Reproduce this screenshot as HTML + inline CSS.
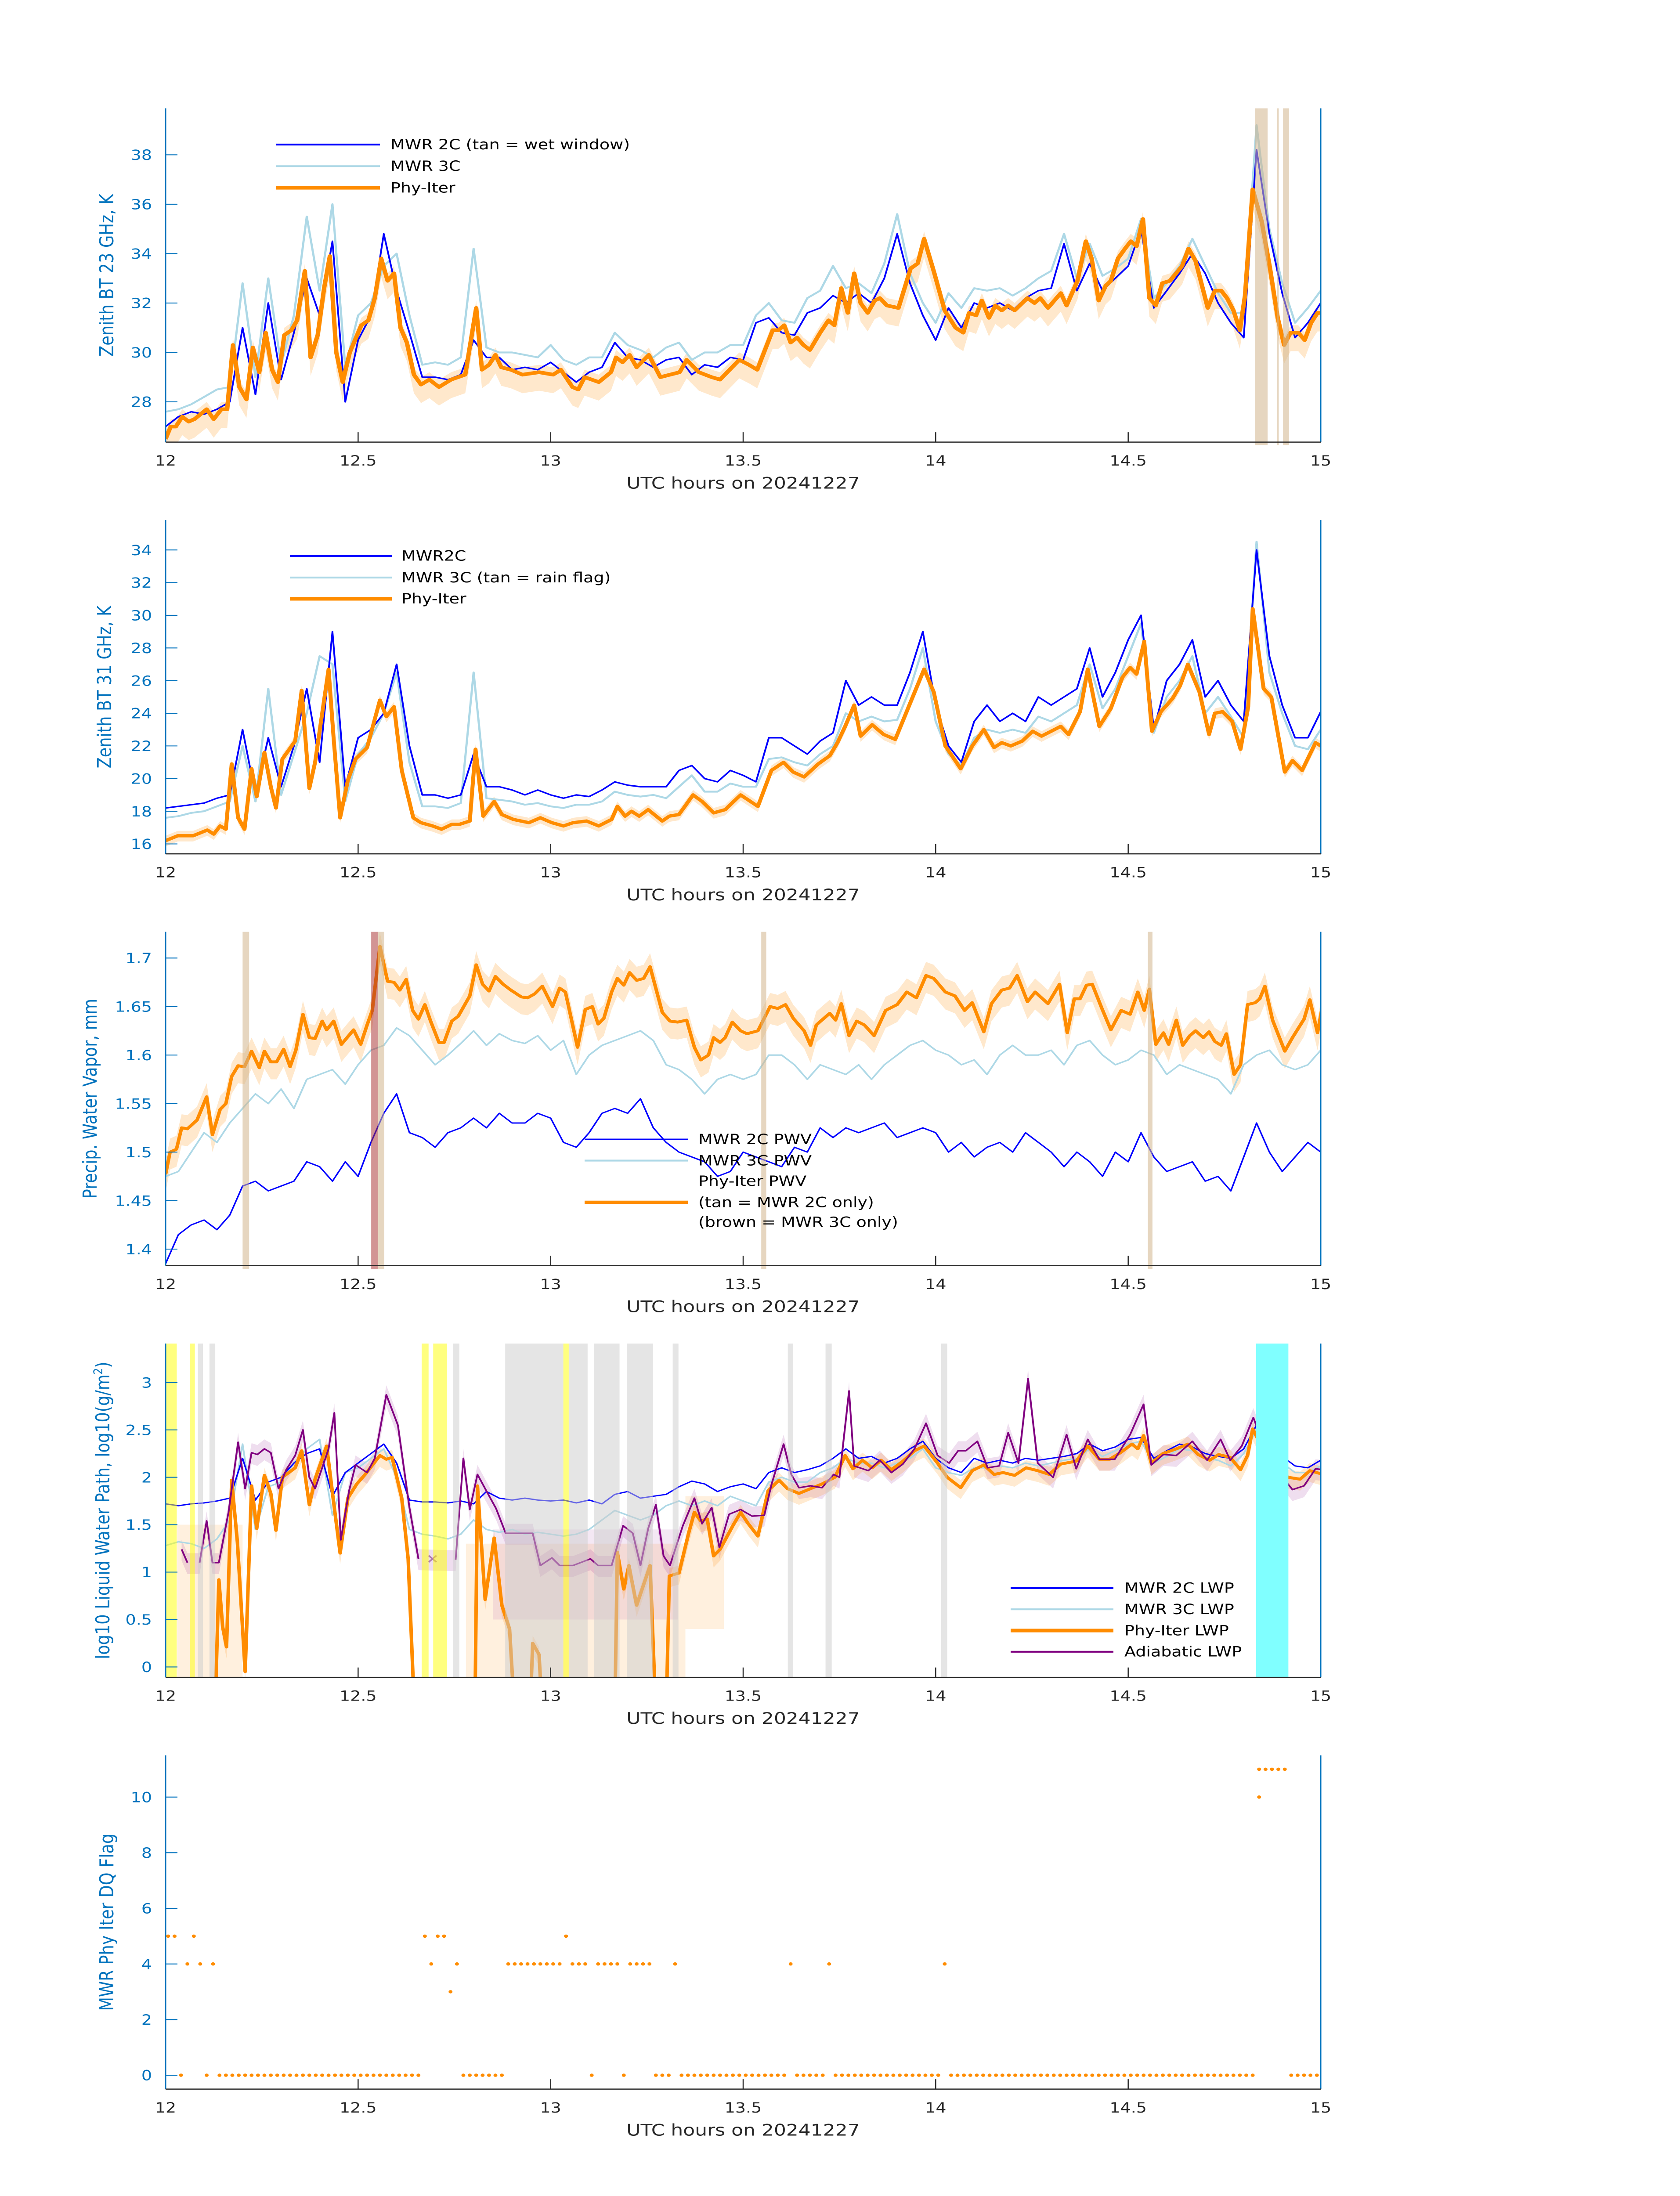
<!DOCTYPE html>
<html><head><meta charset="utf-8"><style>
html,body{margin:0;padding:0;background:#fff;width:100%;height:100%;overflow:hidden;}
svg{display:block;position:absolute;left:0;top:0;width:100%;height:100%;font-family:"DejaVu Sans","Liberation Sans",sans-serif;}
</style></head><body>
<svg id="fig" xmlns="http://www.w3.org/2000/svg" viewBox="0 0 3825 6000" preserveAspectRatio="none">
<rect x="0" y="0" width="3825" height="6000" fill="#fff"/>
</svg>
<script>
// ---------- data ----------
const t2min = Array.from({length:91},(_, i)=>i*2);
const xTickValues = [12,12.5,13,13.5,14,14.5,15];
const xTickLabels = ["12","12.5","13","13.5","14","14.5","15"];

// Panel 1: 23 GHz BT
const bt23Ticks = [28,30,32,34,36,38];
const bt23Mwr2c = [27.0,27.4,27.6,27.5,27.7,28.0,31.0,28.3,32.0,28.9,30.8,33.0,31.5,34.5,28.0,30.5,31.5,34.8,32.5,30.8,29.0,29.0,28.9,29.1,30.5,29.8,29.8,29.3,29.4,29.3,29.6,29.2,28.8,29.2,29.4,30.4,29.8,29.7,29.4,29.7,29.8,29.1,29.5,29.4,29.8,29.7,31.2,31.4,30.8,30.7,31.6,31.8,32.3,32.0,32.4,32.0,33.0,34.8,32.8,31.5,30.5,31.8,31.0,32.0,31.8,32.0,31.7,32.2,32.5,32.6,34.4,32.5,33.6,32.5,33.0,33.5,35.0,31.8,32.5,33.2,34.0,33.2,32.0,31.2,30.6,38.2,34.8,32.4,30.6,31.2,32.0];
const bt23Mwr3c = [27.6,27.7,27.9,28.2,28.5,28.6,32.8,29.0,33.0,29.5,31.5,35.5,32.5,36.0,29.4,31.5,32.0,33.5,34.0,31.5,29.5,29.6,29.5,29.8,34.2,30.2,30.0,30.0,29.9,29.8,30.3,29.7,29.5,29.8,29.8,30.8,30.3,30.1,29.8,30.2,30.4,29.7,30.0,30.0,30.3,30.3,31.5,32.0,31.3,31.2,32.2,32.5,33.5,32.6,32.8,32.4,33.6,35.6,33.2,32.0,31.2,32.4,31.8,32.6,32.5,32.6,32.3,32.6,33.0,33.3,34.8,33.0,34.4,33.1,33.4,33.8,35.4,32.2,32.8,33.5,34.6,33.5,32.4,31.6,31.6,39.2,35.0,32.8,31.2,31.8,32.5];
const bt23PhyTime = [0,0.8,1.6,2.6,3.6,4.5,6.4,7.5,8.7,9.6,10.5,11.5,12.6,13.6,14.6,15.6,16.6,17.5,18.5,19.6,20.5,21.7,22.6,23.7,24.7,25.6,26.6,27.6,28.7,30.5,31.6,32.6,33.6,34.6,35.6,36.6,37.6,38.7,39.8,41.1,42.6,44.5,46.7,48.4,49.3,50.4,51.4,52.3,53.8,55.6,58.2,60.4,61.6,63.4,64.3,65.3,66.4,67.5,69.4,70.2,71.2,72.3,73.4,75.3,77.1,78.6,80.1,81.2,83.1,85.1,86.4,89.4,90.9,92.2,94.6,95.5,96.4,97.4,98.4,99.4,100.4,102.0,103.3,104.2,105.3,106.3,107.3,108.3,109.4,110.5,111.3,112.4,114.2,116.1,117.2,118.2,119.8,121.4,123.1,124.3,125.2,126.3,127.2,128.3,129.3,130.3,131.3,132.3,134.3,135.4,136.3,137.5,139.5,140.4,142.1,143.4,144.3,145.4,146.5,147.3,148.4,149.5,150.4,151.3,152.3,153.3,154.3,155.3,156.5,158.4,159.4,160.5,161.6,162.4,163.5,164.5,165.4,166.4,167.4,168.2,169.4,170.8,172.1,173.3,174.3,175.3,176.5,177.5,178.5,179.5,180.4];
const bt23Phy = [26.5,27.0,27.0,27.4,27.2,27.3,27.7,27.3,27.7,27.7,30.3,28.6,28.1,30.2,29.2,30.8,29.3,28.8,30.7,30.9,31.3,33.3,29.8,30.7,32.6,33.9,30.0,28.8,30.0,31.1,31.3,32.2,33.8,32.9,33.2,31.0,30.4,29.1,28.7,28.9,28.6,28.9,29.1,31.8,29.3,29.5,29.9,29.4,29.3,29.1,29.2,29.1,29.3,28.6,28.5,29.0,28.9,28.8,29.2,29.8,29.6,29.9,29.4,29.9,29.0,29.1,29.2,29.7,29.2,29.0,28.9,29.7,29.5,29.3,30.9,30.9,31.1,30.4,30.6,30.3,30.1,30.8,31.3,31.1,32.6,31.6,33.2,32.0,31.6,32.1,32.2,31.9,31.8,33.4,33.6,34.6,33.2,31.7,31.0,30.8,31.6,31.5,32.1,31.4,31.9,31.7,31.9,31.7,32.2,32.0,32.2,31.8,32.4,31.9,32.9,34.5,33.8,32.1,32.7,32.9,33.8,34.2,34.5,34.3,35.4,32.2,31.9,32.8,32.9,33.5,34.2,33.7,32.6,31.8,32.5,32.5,32.2,31.7,30.9,32.3,36.6,35.3,33.4,31.4,30.3,30.8,30.8,30.5,31.2,31.6,31.6];
const bt23WetStart = [14.830,14.886,14.902];
const bt23WetEnd = [14.862,14.891,14.918];

// Panel 2: 31 GHz BT
const bt31Ticks = [16,18,20,22,24,26,28,30,32,34];
const bt31Mwr2c = [18.2,18.3,18.4,18.5,18.8,19.0,23.0,19.0,22.5,19.5,22.0,25.5,21.0,29.0,19.5,22.5,23.0,24.0,27.0,22.0,19.0,19.0,18.8,19.0,21.5,19.5,19.5,19.3,19.0,19.3,19.0,18.8,19.0,18.9,19.3,19.8,19.6,19.5,19.5,19.5,20.5,20.8,20.0,19.8,20.5,20.2,19.8,22.5,22.5,22.0,21.5,22.3,22.8,26.0,24.5,25.0,24.5,24.5,26.5,29.0,24.5,22.0,21.0,23.5,24.5,23.5,24.0,23.5,25.0,24.5,25.0,25.5,28.0,25.0,26.5,28.5,30.0,23.0,26.0,27.0,28.5,25.0,26.0,24.5,23.5,34.0,27.5,24.5,22.5,22.5,24.1];
const bt31Mwr3c = [17.6,17.7,17.9,18.0,18.3,18.6,22.0,18.6,25.5,19.0,21.5,24.0,27.5,27.0,18.6,21.5,22.5,24.0,26.5,21.0,18.3,18.3,18.2,18.5,26.5,18.8,18.7,18.6,18.4,18.5,18.3,18.2,18.4,18.4,18.6,19.2,19.0,18.9,19.0,18.8,19.5,20.2,19.2,19.2,19.7,19.5,19.5,21.2,21.3,21.0,20.8,21.5,22.0,24.0,23.5,23.8,23.5,23.6,25.5,28.0,23.5,21.5,20.8,22.5,23.0,22.8,23.0,22.8,23.8,23.5,24.0,24.5,27.0,24.3,25.5,27.5,29.5,22.8,25.0,26.0,27.5,24.0,25.0,23.8,22.5,34.5,26.5,24.0,22.0,21.8,23.0];
const bt31PhyTime = [0,1.9,4.3,6.5,7.5,8.5,9.4,10.3,11.3,12.3,13.4,14.2,15.4,16.4,17.2,18.2,20.2,21.2,22.4,23.3,25.4,26.2,27.2,28.4,29.6,31.4,33.4,34.4,35.6,36.8,38.6,39.8,41.6,43.0,44.6,45.8,47.4,48.3,49.5,51.2,52.4,54.2,56.6,58.4,60.2,62.0,63.5,65.6,67.5,69.5,70.4,71.6,72.6,73.8,75.2,77.4,78.5,80.0,82.2,83.6,85.4,87.2,89.6,92.3,94.4,96.3,97.8,99.5,101.7,103.5,104.7,105.9,107.3,108.3,110.1,111.9,113.7,116.1,118.2,119.7,121.5,123.9,125.7,127.5,129.1,130.3,131.7,133.5,135.1,136.5,138.0,139.5,140.7,142.5,143.7,145.5,147.3,149.1,150.3,151.3,152.5,153.7,155.1,156.9,158.1,159.3,161.1,162.6,163.5,164.7,166.2,167.5,168.7,169.4,171.1,172.3,174.4,175.6,177.1,179.2,180.4];
const bt31Phy = [16.2,16.5,16.5,16.85,16.6,17.1,16.9,20.9,17.6,16.9,20.6,18.9,21.6,19.5,18.2,21.2,22.3,25.4,19.4,21.0,26.7,22.4,17.6,19.9,21.2,21.9,24.8,23.8,24.4,20.5,17.6,17.3,17.1,16.9,17.2,17.2,17.4,21.8,17.7,18.6,17.8,17.5,17.3,17.6,17.3,17.1,17.3,17.4,17.1,17.5,18.3,17.7,18.0,17.7,18.1,17.4,17.7,17.8,19.0,18.6,17.9,18.1,19.0,18.3,20.5,21.0,20.4,20.1,20.9,21.4,22.2,23.2,24.5,22.6,23.3,22.7,22.4,24.7,26.7,25.3,22.0,20.6,22.0,23.0,21.9,22.2,22.0,22.3,22.9,22.6,22.9,23.2,22.7,24.1,26.7,23.2,24.3,26.2,26.8,26.4,28.4,22.9,24.1,24.9,25.7,27.0,25.3,22.7,24.0,24.1,23.5,21.8,24.4,30.4,25.5,25.0,20.4,21.1,20.5,22.2,21.9];

// Panel 3: PWV
const pwvTicks = [1.4,1.45,1.5,1.55,1.6,1.65,1.7];
const pwvTickLabels = ["1.4","1.45","1.5","1.55","1.6","1.65","1.7"];
const pwvMwr2c = [1.385,1.415,1.425,1.430,1.420,1.435,1.465,1.470,1.460,1.465,1.470,1.490,1.485,1.470,1.490,1.475,1.510,1.540,1.560,1.520,1.515,1.505,1.520,1.525,1.535,1.525,1.540,1.530,1.530,1.540,1.535,1.510,1.505,1.520,1.540,1.545,1.540,1.555,1.525,1.510,1.500,1.495,1.490,1.475,1.480,1.500,1.495,1.490,1.485,1.505,1.500,1.525,1.515,1.525,1.520,1.525,1.530,1.515,1.520,1.525,1.520,1.500,1.510,1.495,1.505,1.510,1.500,1.520,1.510,1.500,1.485,1.500,1.490,1.475,1.500,1.490,1.520,1.495,1.480,1.485,1.490,1.470,1.475,1.460,1.495,1.530,1.500,1.480,1.495,1.510,1.500];
const pwvMwr3c = [1.475,1.480,1.500,1.520,1.510,1.530,1.545,1.560,1.550,1.565,1.545,1.575,1.580,1.585,1.570,1.590,1.605,1.610,1.628,1.620,1.605,1.590,1.600,1.612,1.625,1.610,1.622,1.615,1.612,1.620,1.605,1.615,1.580,1.600,1.610,1.615,1.620,1.625,1.615,1.590,1.585,1.575,1.560,1.575,1.580,1.575,1.580,1.600,1.600,1.590,1.575,1.590,1.585,1.580,1.590,1.575,1.590,1.600,1.610,1.615,1.605,1.600,1.590,1.595,1.580,1.600,1.610,1.600,1.600,1.605,1.590,1.610,1.615,1.600,1.590,1.595,1.605,1.600,1.580,1.590,1.585,1.580,1.575,1.560,1.590,1.600,1.605,1.590,1.585,1.590,1.605];
const pwvPhyTime = [0,0.7,1.7,2.5,3.4,4.9,6.4,7.3,8.5,9.4,10.3,11.3,12.3,13.4,14.6,15.4,16.4,17.3,18.4,19.4,20.3,21.4,22.4,23.3,24.4,25.1,26.2,27.4,29.3,30.4,31.4,32.2,33.4,34.6,35.6,36.5,37.5,38.5,39.4,40.4,41.3,42.6,43.4,44.6,45.6,47.4,48.4,49.4,50.4,51.4,52.6,53.8,55.4,56.4,57.5,58.7,60.3,61.4,62.3,63.2,64.2,65.4,66.5,67.4,68.3,69.5,70.4,71.4,72.3,73.4,74.5,75.5,77.4,78.6,79.8,81.2,82.4,83.4,84.6,85.4,86.4,87.2,88.3,89.6,90.6,92.3,94.2,95.4,96.6,97.8,98.7,99.5,100.5,101.4,102.6,103.5,104.4,105.3,106.5,107.7,108.9,110.4,112.2,114.0,115.5,117.0,118.5,119.7,121.5,123.0,124.5,125.7,127.5,128.7,130.3,131.5,132.7,134.3,135.5,137.5,139.3,140.5,141.6,142.5,143.5,144.4,145.9,147.3,148.9,150.3,151.5,152.5,153.3,154.3,155.5,156.3,157.5,158.5,159.6,160.5,161.7,162.6,163.5,164.5,165.3,166.5,167.5,168.6,169.8,170.5,171.3,172.5,174.4,175.6,177.4,178.3,179.5,180.4];
const pwvPhy = [1.477,1.500,1.503,1.525,1.524,1.533,1.557,1.518,1.544,1.550,1.578,1.589,1.588,1.604,1.587,1.604,1.593,1.593,1.606,1.588,1.605,1.642,1.618,1.617,1.635,1.626,1.635,1.611,1.626,1.611,1.631,1.646,1.712,1.676,1.675,1.667,1.678,1.646,1.637,1.652,1.635,1.613,1.613,1.635,1.640,1.661,1.693,1.673,1.666,1.681,1.673,1.667,1.660,1.659,1.663,1.671,1.650,1.669,1.665,1.638,1.608,1.647,1.650,1.632,1.638,1.665,1.679,1.672,1.685,1.677,1.679,1.691,1.644,1.635,1.634,1.636,1.608,1.595,1.600,1.618,1.613,1.618,1.634,1.625,1.622,1.625,1.650,1.648,1.652,1.638,1.631,1.625,1.610,1.631,1.638,1.643,1.636,1.653,1.620,1.635,1.631,1.620,1.646,1.652,1.665,1.659,1.682,1.679,1.665,1.661,1.646,1.654,1.624,1.653,1.667,1.669,1.682,1.655,1.665,1.653,1.673,1.623,1.658,1.658,1.672,1.673,1.648,1.626,1.646,1.642,1.665,1.646,1.668,1.611,1.623,1.611,1.636,1.610,1.620,1.625,1.618,1.624,1.614,1.610,1.622,1.580,1.590,1.652,1.654,1.658,1.671,1.636,1.604,1.618,1.637,1.657,1.623,1.655];
const pwvTanStart = [12.200,12.552,13.547,14.551];
const pwvTanEnd = [12.217,12.568,13.560,14.563];
const pwvBrownStart = [12.534];
const pwvBrownEnd = [12.552];

// Panel 4: LWP
const lwpTicks = [0,0.5,1,1.5,2,2.5,3];
const lwpTickLabels = ["0","0.5","1","1.5","2","2.5","3"];
const lwpMwr2c = [1.72,1.70,1.72,1.73,1.75,1.78,2.20,1.76,1.95,2.00,2.15,2.25,2.30,1.80,2.05,2.15,2.25,2.35,2.15,1.76,1.74,1.74,1.73,1.75,1.72,1.85,1.78,1.76,1.78,1.76,1.75,1.76,1.73,1.76,1.72,1.82,1.85,1.78,1.80,1.82,1.90,1.96,1.93,1.85,1.90,1.93,1.88,2.05,2.10,2.05,2.08,2.12,2.20,2.30,2.20,2.22,2.15,2.20,2.30,2.38,2.20,2.10,2.05,2.20,2.15,2.18,2.15,2.20,2.18,2.20,2.22,2.25,2.35,2.28,2.32,2.40,2.42,2.20,2.28,2.35,2.32,2.25,2.22,2.20,2.30,2.55,2.40,2.22,2.12,2.10,2.18];
const lwpMwr3c = [1.28,1.32,1.30,1.25,1.35,1.55,2.35,1.45,1.90,1.95,2.15,2.30,2.40,1.60,2.05,2.10,2.20,2.30,2.00,1.45,1.40,1.38,1.35,1.40,1.55,1.45,1.42,1.45,1.40,1.42,1.40,1.38,1.40,1.45,1.55,1.65,1.60,1.55,1.60,1.70,1.75,1.70,1.75,1.70,1.80,1.75,1.70,1.95,2.00,1.95,1.95,2.05,2.10,2.20,2.15,2.15,2.10,2.15,2.20,2.30,2.10,2.05,2.02,2.10,2.10,2.12,2.10,2.15,2.12,2.15,2.18,2.20,2.30,2.22,2.28,2.35,2.38,2.15,2.22,2.30,2.28,2.20,2.18,2.12,2.25,2.50,2.35,2.15,2.05,2.05,2.12];
const lwpPhyTime = [7.7,8.3,8.9,9.5,10.3,11.2,12.4,13.4,14.2,15.4,16.4,17.2,18.2,20.2,21.2,22.4,23.3,25.1,26.2,27.2,28.4,29.8,31.1,33.4,34.4,35.3,36.8,37.8,38.8,48.2,48.6,49.8,51.2,52.4,53.6,54.4,56.8,57.2,58.2,58.7,70.0,70.4,71.4,72.2,73.4,74.6,75.5,76.4,78.0,78.5,80.0,81.5,82.4,83.4,84.4,85.4,86.4,87.2,88.4,89.6,90.8,92.3,93.9,95.6,96.9,98.7,100.5,102.3,104.3,105.9,107.1,108.6,110.1,111.5,113.1,114.9,116.7,118.2,120.3,121.8,123.9,125.7,127.5,129.1,130.5,132.3,134.1,135.9,137.7,139.5,141.9,143.7,145.5,147.1,148.8,150.6,151.5,152.4,153.6,155.4,157.5,159.3,160.9,162.7,164.1,165.9,167.5,168.6,169.4,171.0,172.5,174.9,176.8,178.3,180.4];
const lwpPhy = [-0.5,0.92,0.42,0.21,1.97,1.31,-0.05,1.91,1.46,2.02,1.83,1.44,2.00,2.10,2.28,1.71,1.98,2.33,1.73,1.20,1.78,1.93,2.03,2.23,2.19,2.21,1.78,1.14,-0.5,-0.5,1.91,0.71,1.36,0.65,0.40,-0.5,-0.5,0.25,0.13,-0.5,-0.5,1.21,0.82,1.07,0.65,0.89,1.07,-0.5,-0.5,0.96,0.99,1.41,1.63,1.54,1.56,1.17,1.24,1.34,1.49,1.63,1.51,1.38,1.86,1.97,1.88,1.83,1.88,1.93,2.00,2.23,2.09,2.18,2.10,2.18,2.08,2.17,2.28,2.33,2.15,2.00,1.89,2.07,2.13,2.03,2.05,2.02,2.10,2.07,2.03,2.14,2.17,2.33,2.19,2.19,2.26,2.35,2.30,2.44,2.15,2.25,2.30,2.35,2.24,2.18,2.24,2.21,2.08,2.23,2.51,2.30,2.13,2.00,1.98,2.07,2.03];
const lwpAdiTime = [2.5,3.4,4.4,5.3,6.4,7.3,8.3,9.8,11.3,12.4,13.4,14.3,15.4,16.4,17.6,18.8,20.2,21.4,22.4,23.3,25.4,26.3,27.3,28.6,29.6,31.4,32.6,34.4,36.2,38.0,39.4,42,45.2,46.4,47.4,48.6,49.8,51.5,53.0,57.2,58.4,60.2,61.4,63.5,66.2,67.4,69.5,71.3,72.8,74.0,75.2,76.4,77.6,78.6,80.6,82.4,83.6,85.1,86.3,87.8,89.6,91.4,93.3,94.4,96.3,97.5,98.7,100.5,102.3,104.1,105.0,106.5,107.3,109.5,111.3,113.1,114.9,116.7,118.5,120.3,122.1,123.5,124.7,126.5,128.1,129.9,131.3,132.9,134.4,135.9,138.3,140.4,141.9,143.7,145.5,147.9,150.3,152.4,153.6,155.5,157.5,160.0,162.3,164.4,165.9,167.7,169.5,171.3,173.7,175.6,177.4,179.2,180.4];
const lwpAdi = [1.24,1.10,null,1.10,1.54,1.10,1.10,1.63,2.37,1.88,2.26,2.24,2.30,2.26,1.88,2.08,2.23,2.50,2.00,1.88,2.30,2.68,1.34,1.86,2.13,2.05,2.20,2.87,2.55,1.68,1.14,null,1.13,2.20,1.66,2.03,1.88,1.67,1.41,1.41,1.07,1.15,1.07,1.07,1.14,1.07,1.07,1.49,1.41,1.07,1.46,1.71,1.17,1.07,1.49,1.78,1.51,1.68,1.26,1.61,1.66,1.59,1.60,1.92,2.35,2.03,1.89,1.91,1.89,2.03,2.00,2.91,2.12,2.07,2.18,2.05,2.14,2.30,2.57,2.23,2.15,2.28,2.28,2.38,2.10,2.12,2.47,2.15,3.04,2.15,2.00,2.45,2.09,2.40,2.19,2.19,2.45,2.77,2.13,2.24,2.23,2.38,2.18,2.40,2.18,2.33,2.63,2.30,2.03,1.87,1.91,2.09,2.08];
const lwpMarkerTime = [41.6];
const lwpMarkerValue = [1.14];
const lwpYellowStart = [12.000,12.063,12.665,12.695,13.033];
const lwpYellowEnd = [12.029,12.076,12.683,12.731,13.047];
const lwpGrayStart = [12.084,12.114,12.747,12.882,13.047,13.113,13.198,13.317,13.616,13.714,14.014];
const lwpGrayEnd = [12.097,12.129,12.763,13.033,13.096,13.179,13.266,13.332,13.630,13.730,14.030];
const lwpCyanStart = [14.832];
const lwpCyanEnd = [14.916];
const lwpPeachShadeStart = [12.03,12.78,13.35];
const lwpPeachShadeEnd = [12.20,13.35,13.45];
const lwpPeachShadeLo = [-0.11,-0.11,0.4];
const lwpPeachShadeHi = [1.5,1.3,1.8];
const lwpPurpleShadeStart = [12.85];
const lwpPurpleShadeEnd = [13.33];
const lwpPurpleShadeLo = [0.5];
const lwpPurpleShadeHi = [1.45];

// Panel 5: DQ flag, run-length encoded (one value per minute, 180 minutes)
const flagTicks = [0,2,4,6,8,10];
const flagRunValues  = [5,0,4,5,4,0,4,0, 5,4,5,3,4,0,4,5,4,0,4,0,4,0,4,0, 4,0,4,0, 4,0, 11,0];
const flagRunLengths = [2,1,1,1,1,1,1,32,1,1,2,1,1,7,9,1,3,1,4,1,4,3,1,17,1,5,1,17,1,48,5,5];
const flagExtraMinute = [170];
const flagExtraValue = [10];
const flagValues = [];
flagRunValues.forEach((v,i)=>{ for(let k=0;k<flagRunLengths[i];k++) flagValues.push(v); });

// ---------- drawing ----------
const NS = "http://www.w3.org/2000/svg";
const svg = document.getElementById('fig');
const AX_L = 377, AX_R = 3007, PH = 912;
const PANEL_TOPS = [296, 1421, 2546, 3671, 4796];
const BLUE_AX = "#0072BD", DARK = "#262626";
function xh(h){ return AX_L + (h-12)/3*(AX_R-AX_L); }
function xm(m){ return xh(12 + m/60); }
function mk(tag, attrs, parent){
  const e = document.createElementNS(NS, tag);
  for (const k in attrs) e.setAttribute(k, attrs[k]);
  (parent||svg).appendChild(e); return e;
}
function makeY(top, lo, hi){ return v => top + PH - (v-lo)/(hi-lo)*PH; }
function linePath(times, vals, Y){
  let d = "", pen = false;
  for (let i=0;i<times.length;i++){
    const v = vals[i];
    if (v===null || v===undefined){ pen=false; continue; }
    d += (pen?"L":"M") + xm(times[i]).toFixed(1) + " " + Y(v).toFixed(1) + " ";
    pen = true;
  }
  return d;
}
function bandPath(times, vals, dLo, dHi, Y){
  const up=[], dn=[];
  for (let i=0;i<times.length;i++){
    const v=vals[i]; if (v===null) continue;
    up.push(xm(times[i]).toFixed(1)+" "+Y(v+dHi).toFixed(1));
    dn.push(xm(times[i]).toFixed(1)+" "+Y(v-dLo).toFixed(1));
  }
  return "M"+up.join(" L")+" L"+dn.reverse().join(" L")+" Z";
}
function drawAxes(g, top, Y, yTicks, yLabels, ylabelText, ylabelX, idx){
  const bottom = top + PH;
  const ya = mk('line',{x1:AX_L,y1:top,x2:AX_L,y2:bottom,stroke:BLUE_AX,'stroke-width':3},g);
   
  const yr = mk('line',{x1:AX_R,y1:top,x2:AX_R,y2:bottom,stroke:BLUE_AX,'stroke-width':3},g);
   
  const xa = mk('line',{x1:AX_L,y1:bottom,x2:AX_R,y2:bottom,stroke:DARK,'stroke-width':3},g);
   
  yTicks.forEach((v,i)=>{
    const y = Y(v);
    const t = mk('line',{x1:AX_L,y1:y,x2:AX_L+27,y2:y,stroke:BLUE_AX,'stroke-width':2.5},g);
     
    const tx = mk('text',{x:346,y:y+14,'text-anchor':'end','font-size':38,fill:BLUE_AX},g);
    tx.textContent = yLabels[i];
     
  });
  xTickValues.forEach((h,i)=>{
    const x = xh(h);
    if (i>0 && i<xTickValues.length-1){
      const t = mk('line',{x1:x,y1:bottom,x2:x,y2:bottom-27,stroke:DARK,'stroke-width':2.5},g);
       
    }
    const tx = mk('text',{x:x,y:bottom+64,'text-anchor':'middle','font-size':38,fill:DARK},g);
    tx.textContent = xTickLabels[i];
     
  });
  const xl = mk('text',{x:(AX_L+AX_R)/2,y:bottom+127,'text-anchor':'middle','font-size':44,fill:DARK},g);
  xl.textContent = "UTC hours on 20241227";
   
  const cy = top + PH/2;
  const yl = mk('text',{x:ylabelX+16,y:cy,'text-anchor':'middle','font-size':44,fill:BLUE_AX,transform:`rotate(-90 ${ylabelX+16} ${cy})`},g);
  if (typeof ylabelText === 'string') yl.textContent = ylabelText;
  else { ylabelText(yl); }
   
}
function clipFor(idx, top){
  let defs = svg.querySelector('defs'); if(!defs) defs = mk('defs',{});
  const cp = mk('clipPath',{id:'clip'+idx},defs);
  mk('rect',{x:AX_L,y:top,width:AX_R-AX_L,height:PH},cp);
  return 'url(#clip'+idx+')';
}
function vbands(g, starts, ends, top, color, op, ext){
  starts.forEach((s,i)=>{
    const r = mk('rect',{x:xh(s),y:top,width:Math.max(2,xh(ends[i])-xh(s)),height:PH+(ext||0),fill:color,'fill-opacity':op},g);
     
  });
}
function legendEntry(g, x1, x2, y, color, w, label, tx){
  const l = mk('line',{x1:x1,y1:y,x2:x2,y2:y,stroke:color,'stroke-width':w},g);
   
  if (label){
    const t = mk('text',{x:tx,y:y+13,'font-size':38,fill:'#000'},g);
    t.textContent = label;
     
  }
}
function series(g, d, color, w, name, clip){
  const p = mk('path',{d:d,fill:'none',stroke:color,'stroke-width':w,'stroke-linejoin':'round','clip-path':clip},g);
   
  return p;
}
function band(g, d, color, op, clip, name){
  const p = mk('path',{d:d,fill:color,'fill-opacity':op,stroke:'none','clip-path':clip},g);
   
}

// Panel 1
(function(){
  const top = PANEL_TOPS[0];
  const g = mk('g',{});  
  const Y = makeY(top, 26.37, 39.88); const clip = clipFor(0, top);
  band(g, bandPath(bt23PhyTime, bt23Phy, 0.75, 0.3, Y), '#ff8c00', 0.2, clip, 'phy-iter-uncertainty');
  series(g, linePath(t2min, bt23Mwr3c, Y), '#add8e6', 5, 'mwr3c-line', clip);
  series(g, linePath(t2min, bt23Mwr2c, Y), '#0000ff', 4, 'mwr2c-line', clip);
  series(g, linePath(bt23PhyTime, bt23Phy, Y), '#ff8c00', 10, 'phy-iter-line', clip);
  vbands(g, bt23WetStart, bt23WetEnd, top, '#d2b48c', 0.55, 8);
  drawAxes(g, top, Y, bt23Ticks, bt23Ticks.map(String), "Zenith BT 23 GHz, K", 242, 0);
  legendEntry(g, 629, 865, 395, '#0000ff', 5, 'MWR 2C (tan = wet window)', 889);
  legendEntry(g, 629, 865, 454, '#add8e6', 5, 'MWR 3C', 889);
  legendEntry(g, 629, 865, 513, '#ff8c00', 10, 'Phy-Iter', 889);
})();

// Panel 2
(function(){
  const top = PANEL_TOPS[1];
  const g = mk('g',{});  
  const Y = makeY(top, 15.39, 35.83); const clip = clipFor(1, top);
  band(g, bandPath(bt31PhyTime, bt31Phy, 0.35, 0.3, Y), '#ff8c00', 0.2, clip, 'phy-iter-uncertainty');
  series(g, linePath(t2min, bt31Mwr3c, Y), '#add8e6', 5, 'mwr3c-line', clip);
  series(g, linePath(t2min, bt31Mwr2c, Y), '#0000ff', 4, 'mwr2c-line', clip);
  series(g, linePath(bt31PhyTime, bt31Phy, Y), '#ff8c00', 9, 'phy-iter-line', clip);
  drawAxes(g, top, Y, bt31Ticks, bt31Ticks.map(String), "Zenith BT 31 GHz, K", 237, 1);
  legendEntry(g, 660, 892, 1519, '#0000ff', 5, 'MWR2C', 914);
  legendEntry(g, 660, 892, 1578, '#add8e6', 5, 'MWR 3C (tan = rain flag)', 914);
  legendEntry(g, 660, 892, 1636, '#ff8c00', 10, 'Phy-Iter', 914);
})();

// Panel 3
(function(){
  const top = PANEL_TOPS[2];
  const g = mk('g',{});  
  const Y = makeY(top, 1.383, 1.727); const clip = clipFor(2, top);
  band(g, bandPath(pwvPhyTime, pwvPhy, 0.018, 0.014, Y), '#ff8c00', 0.2, clip, 'phy-iter-uncertainty');
  series(g, linePath(t2min, pwvMwr3c, Y), '#add8e6', 4, 'mwr3c-pwv-line', clip);
  series(g, linePath(t2min, pwvMwr2c, Y), '#0000ff', 3.5, 'mwr2c-pwv-line', clip);
  series(g, linePath(pwvPhyTime, pwvPhy, Y), '#ff8c00', 8, 'phy-iter-pwv-line', clip);
  vbands(g, pwvTanStart, pwvTanEnd, top, '#d2b48c', 0.55, 10);
  vbands(g, pwvBrownStart, pwvBrownEnd, top, '#a52a2a', 0.5, 10);
  drawAxes(g, top, Y, pwvTicks, pwvTickLabels, "Precip. Water Vapor, mm", 204, 2);
  legendEntry(g, 1331, 1566, 3113, '#0000ff', 4, 'MWR 2C PWV', 1590);
  legendEntry(g, 1331, 1566, 3171, '#add8e6', 5, 'MWR 3C PWV', 1590);
  const t3 = mk('text',{x:1590,y:3240,'font-size':38,fill:'#000'},g); t3.textContent='Phy-Iter PWV';
   
  legendEntry(g, 1331, 1566, 3285, '#ff8c00', 9, '(tan = MWR 2C only)', 1590);
  const t5 = mk('text',{x:1590,y:3352,'font-size':38,fill:'#000'},g); t5.textContent='(brown = MWR 3C only)';
   
})();

// Panel 4
(function(){
  const top = PANEL_TOPS[3];
  const g = mk('g',{});  
  const Y = makeY(top, -0.11, 3.41); const clip = clipFor(3, top);
  lwpPeachShadeStart.forEach((s,i)=>{
    const r = mk('rect',{x:xh(s),y:Y(lwpPeachShadeHi[i]),width:xh(lwpPeachShadeEnd[i])-xh(s),height:Y(lwpPeachShadeLo[i])-Y(lwpPeachShadeHi[i]),fill:'#ff8c00','fill-opacity':0.13,'clip-path':clip},g);
     
  });
  lwpPurpleShadeStart.forEach((s,i)=>{
    const r = mk('rect',{x:xh(s),y:Y(lwpPurpleShadeHi[i]),width:xh(lwpPurpleShadeEnd[i])-xh(s),height:Y(lwpPurpleShadeLo[i])-Y(lwpPurpleShadeHi[i]),fill:'#800080','fill-opacity':0.09,'clip-path':clip},g);
     
  });
  band(g, bandPath(lwpAdiTime, lwpAdi, 0.12, 0.1, Y), '#800080', 0.13, clip, 'adiabatic-uncertainty');
  band(g, bandPath(lwpPhyTime, lwpPhy, 0.12, 0.08, Y), '#ff8c00', 0.18, clip, 'phy-iter-uncertainty');
  series(g, linePath(t2min, lwpMwr3c, Y), '#add8e6', 4, 'mwr3c-lwp-line', clip);
  series(g, linePath(t2min, lwpMwr2c, Y), '#0000ff', 3.5, 'mwr2c-lwp-line', clip);
  series(g, linePath(lwpPhyTime, lwpPhy, Y), '#ff8c00', 8, 'phy-iter-lwp-line', clip);
  series(g, linePath(lwpAdiTime, lwpAdi, Y), '#800080', 4, 'adiabatic-lwp-line', clip);
  lwpMarkerTime.forEach((m,i)=>{
    const x = xm(m), y = Y(lwpMarkerValue[i]);
    const p = mk('path',{d:`M${x-9} ${y-9} L${x+9} ${y+9} M${x-9} ${y+9} L${x+9} ${y-9}`,stroke:'#b07ab0','stroke-width':4},g);
     
  });
  vbands(g, lwpGrayStart, lwpGrayEnd, top, '#cccccc', 0.5, 0);
  vbands(g, lwpYellowStart, lwpYellowEnd, top, '#ffff00', 0.5, 0);
  vbands(g, lwpCyanStart, lwpCyanEnd, top, '#80ffff', 1, 0);
  drawAxes(g, top, Y, lwpTicks, lwpTickLabels, function(el){
    el.appendChild(document.createTextNode("log10 Liquid Water Path, log10(g/m"));
    const s = document.createElementNS(NS,'tspan'); s.setAttribute('baseline-shift','super'); s.setAttribute('font-size','28');
    s.textContent = "2"; el.appendChild(s);
    el.appendChild(document.createTextNode(")"));
  }, 233, 3);
  legendEntry(g, 2301, 2535, 4339, '#0000ff', 5, 'MWR 2C LWP', 2560);
  legendEntry(g, 2301, 2535, 4397, '#add8e6', 5, 'MWR 3C LWP', 2560);
  legendEntry(g, 2301, 2535, 4455, '#ff8c00', 10, 'Phy-Iter LWP', 2560);
  legendEntry(g, 2301, 2535, 4513, '#800080', 5, 'Adiabatic LWP', 2560);
})();

// Panel 5
(function(){
  const top = PANEL_TOPS[4];
  const g = mk('g',{});  
  const Y = makeY(top, -0.5, 11.5);
  flagValues.forEach((v,i)=>{
    const c = mk('circle',{cx:xm(i+0.4),cy:Y(v),r:4.5,fill:'#ff8c00'},g);
     
  });
  flagExtraMinute.forEach((m,i)=>{
    const c = mk('circle',{cx:xm(m+0.4),cy:Y(flagExtraValue[i]),r:4.5,fill:'#ff8c00'},g);
     
  });
  drawAxes(g, top, Y, flagTicks, flagTicks.map(String), "MWR Phy Iter DQ Flag", 242, 4);
})();
</script>
</body></html>
